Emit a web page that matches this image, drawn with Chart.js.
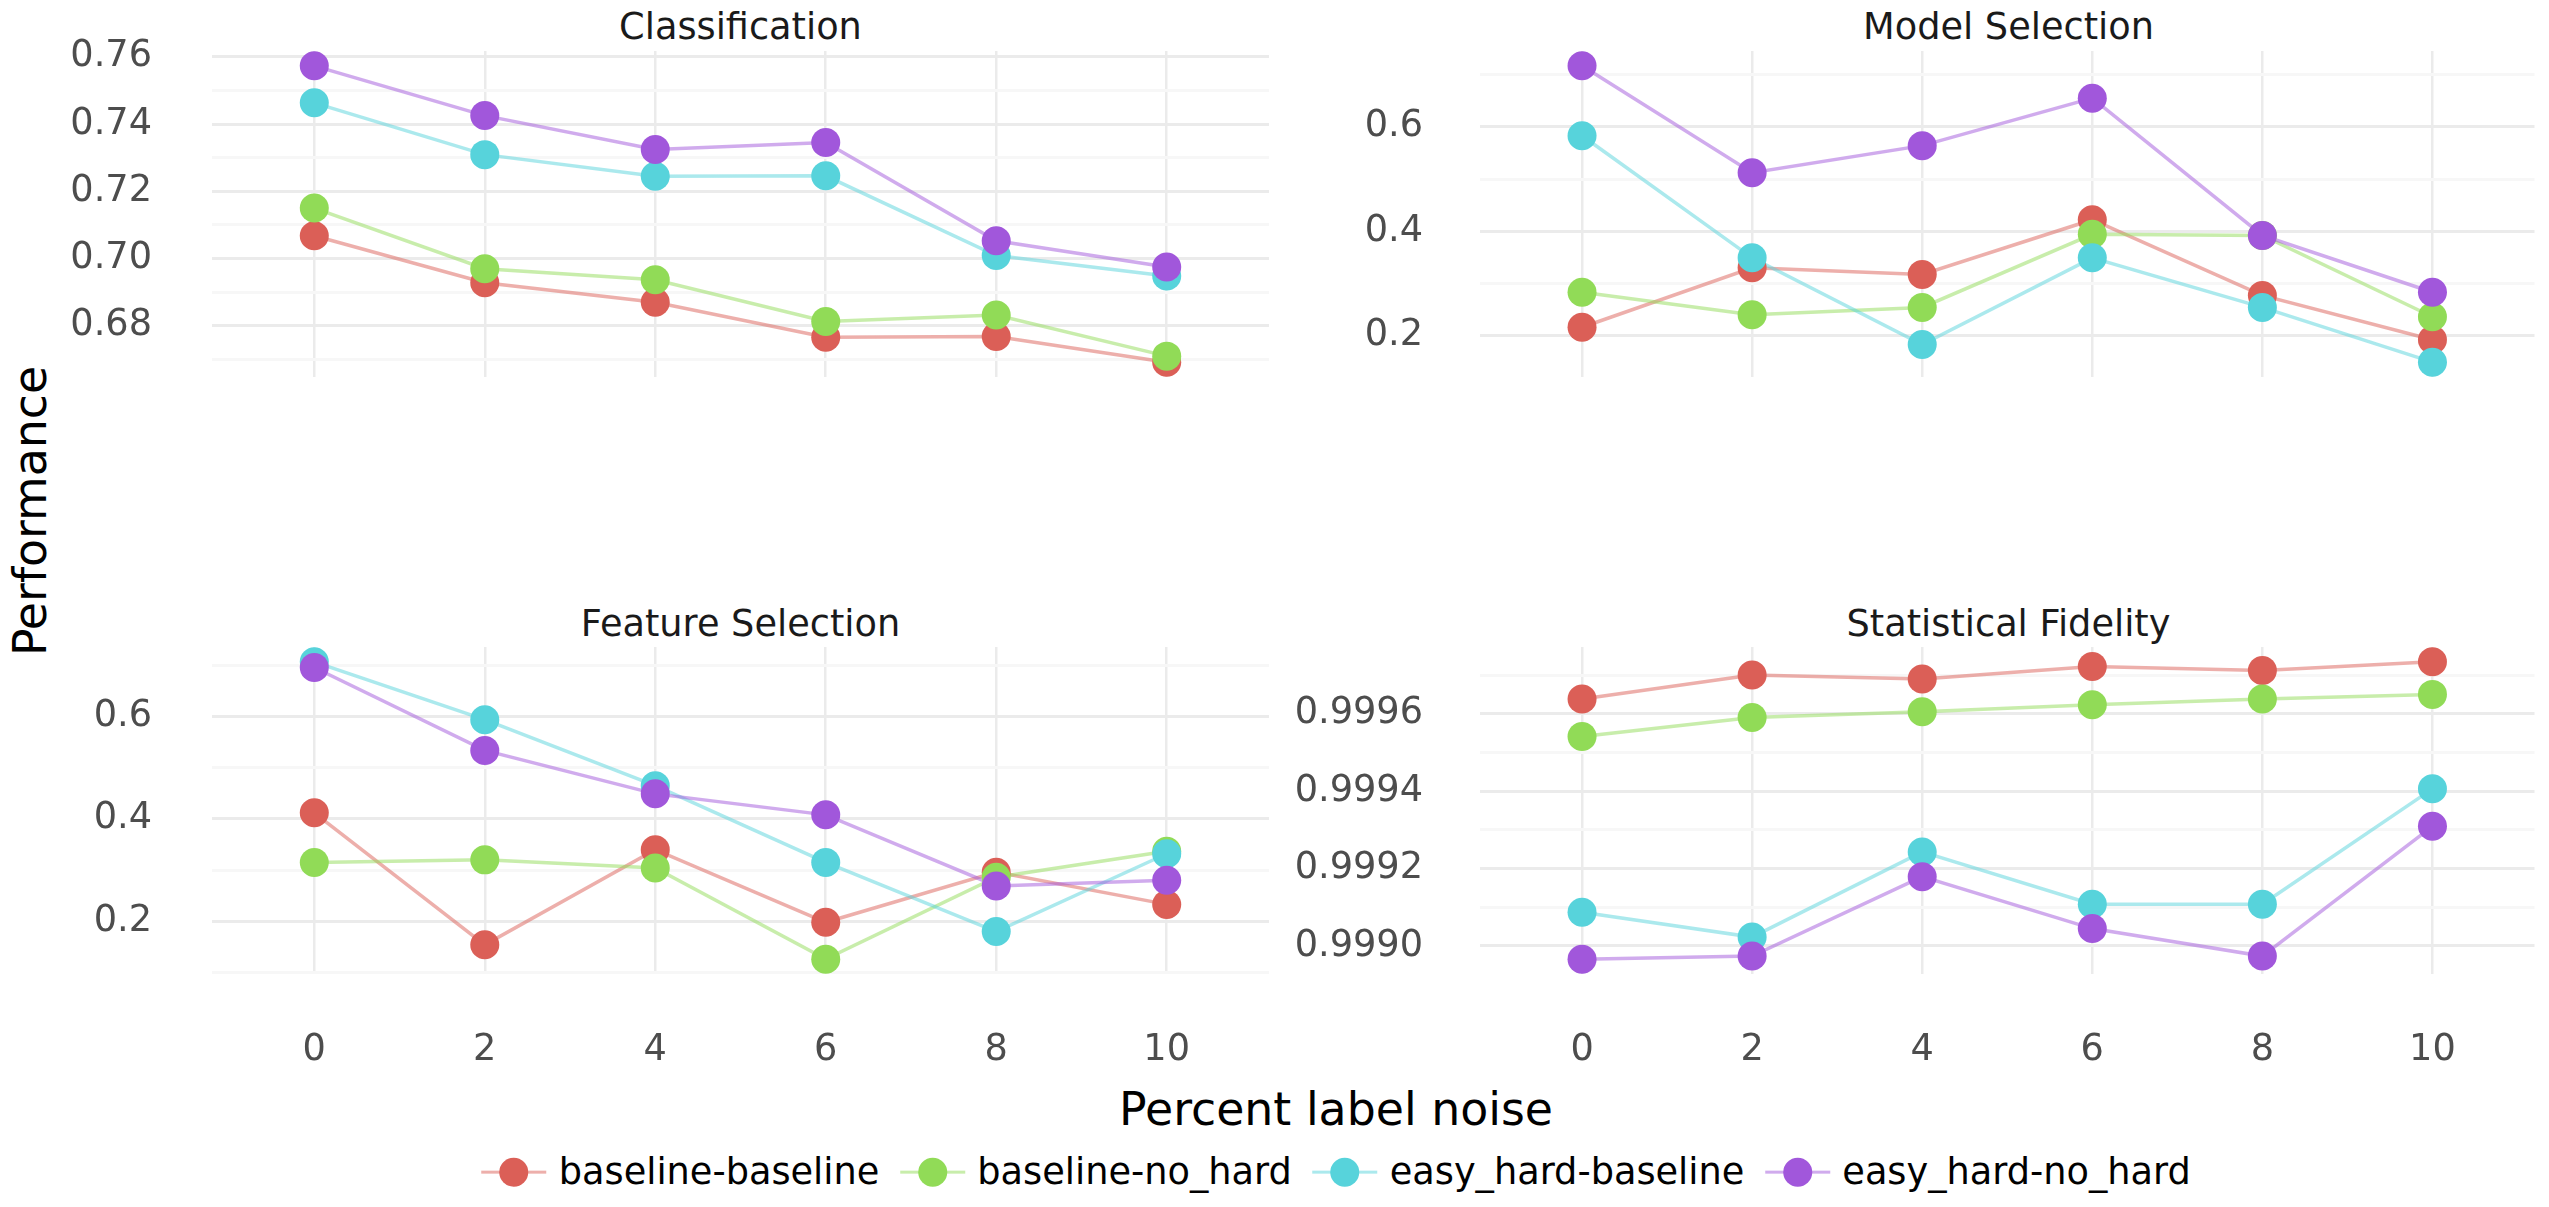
<!DOCTYPE html>
<html>
<head>
<meta charset="utf-8">
<script src="https://cdn.jsdelivr.net/npm/chart.js@4.4.1/dist/chart.umd.min.js"></script>
<style>
  body { margin: 0; width: 2549px; height: 1207px; background: #fff; position: relative; overflow: hidden;
         font-family: 'DejaVu Sans', sans-serif; }
  canvas { position: absolute; }
  .txt { position: absolute; transform: translate(-50%, -50%); white-space: nowrap; line-height: 1; }
  .strip { font-size: 36.7px; color: #1a1a1a; }
  .axtitle { font-size: 45.8px; color: #000; }
  #legend { display: flex; align-items: center; font-size: 36.7px; color: #000; }
  .key { position: relative; width: 65px; height: 30px; margin-right: 12.5px; }
  .key .ln { position: absolute; left: 0; right: 0; top: 13.25px; height: 3.5px; }
  .key .pt { position: absolute; left: 18px; top: 0.5px; width: 29px; height: 29px; border-radius: 50%; }
  .item { display: flex; align-items: center; margin-right: 20.5px; }
  .item:last-child { margin-right: 0; }
</style>
</head>
<body>
<div class="txt strip" style="left:740.5px;top:26.5px">Classification</div>
<div class="txt strip" style="left:2008.5px;top:26.5px">Model Selection</div>
<div class="txt strip" style="left:740.5px;top:623.5px">Feature Selection</div>
<div class="txt strip" style="left:2008.5px;top:623.5px">Statistical Fidelity</div>
<div class="txt axtitle" style="left:31px;top:511px;transform:translate(-50%,-50%) rotate(-90deg)">Performance</div>
<div class="txt axtitle" style="left:1336px;top:1110px">Percent label noise</div>
<div id="legend" class="txt" style="left:1336px;top:1172px"></div>
<script>
// x positions (percent label noise)
const noise = [0, 2, 4, 6, 8, 10];
const seriesNames = ["baseline-baseline", "baseline-no_hard", "easy_hard-baseline", "easy_hard-no_hard"];
const seriesColors = ["#DB5F57", "#91DB57", "#57D3DB", "#A157DB"];

// Classification
const clsBaseBase = [0.7068, 0.6928, 0.6870, 0.6766, 0.6768, 0.6692];
const clsBaseNoHard = [0.7150, 0.6970, 0.6937, 0.6813, 0.6832, 0.6710];
const clsEasyBase = [0.7463, 0.7309, 0.7245, 0.7246, 0.7009, 0.6948];
const clsEasyNoHard = [0.7573, 0.7425, 0.7324, 0.7345, 0.7053, 0.6975];
const clsTicks = ["0.68", "0.70", "0.72", "0.74", "0.76"];
const clsMinor = [0.67, 0.69, 0.71, 0.73, 0.75];

// Model Selection
const msBaseBase = [0.216, 0.330, 0.317, 0.422, 0.277, 0.192];
const msBaseNoHard = [0.283, 0.240, 0.254, 0.394, 0.392, 0.236];
const msEasyBase = [0.583, 0.349, 0.183, 0.349, 0.254, 0.149];
const msEasyNoHard = [0.717, 0.512, 0.564, 0.655, 0.392, 0.283];
const msTicks = ["0.2", "0.4", "0.6"];
const msMinor = [0.1, 0.3, 0.5, 0.7];

// Feature Selection
const fsBaseBase = [0.412, 0.154, 0.340, 0.198, 0.296, 0.233];
const fsBaseNoHard = [0.315, 0.320, 0.304, 0.126, 0.286, 0.337];
const fsEasyBase = [0.707, 0.594, 0.465, 0.315, 0.180, 0.332];
const fsEasyNoHard = [0.696, 0.534, 0.449, 0.408, 0.269, 0.280];
const fsTicks = ["0.2", "0.4", "0.6"];
const fsMinor = [0.1, 0.3, 0.5, 0.7];

// Statistical Fidelity
const sfBaseBase = [0.999638, 0.999700, 0.999690, 0.999722, 0.999712, 0.999734];
const sfBaseNoHard = [0.999541, 0.999590, 0.999605, 0.999623, 0.999638, 0.999650];
const sfEasyBase = [0.999087, 0.999023, 0.999243, 0.999108, 0.999108, 0.999406];
const sfEasyNoHard = [0.998966, 0.998974, 0.999179, 0.999045, 0.998974, 0.999309];
const sfTicks = ["0.9990", "0.9992", "0.9994", "0.9996"];
const sfMinor = [0.9991, 0.9993, 0.9995, 0.9997];

const FONT = { family: "DejaVu Sans", size: 36.7 };

function fade(hex) {
  const n = parseInt(hex.slice(1), 16);
  return `rgba(${n >> 16},${(n >> 8) & 255},${n & 255},0.5)`;
}

// ggplot-like 5% expansion of the data range
function expandRange(series) {
  const all = [].concat(...series);
  const lo = Math.min(...all), hi = Math.max(...all);
  const pad = (hi - lo) * 0.05;
  return [lo - pad, hi + pad];
}

function makePanel(p) {
  const cv = document.createElement("canvas");
  const left = p.plotLeft - p.axisW;
  const top = p.plotTop - 30;
  const right = p.plotRight + p.padRight;
  const xH = p.showX ? 116 : 0;
  const bottom = p.plotBottom + (p.showX ? xH : 30);
  cv.width = right - left;
  cv.height = bottom - top;
  cv.style.left = left + "px";
  cv.style.top = top + "px";
  document.body.appendChild(cv);

  const [yMin, yMax] = expandRange(p.series);
  const yTicks = p.ticks.map(t => ({ value: parseFloat(t), text: t, minor: false }))
    .concat(p.minor.map(v => ({ value: v, text: "", minor: true })))
    .filter(t => t.value > yMin && t.value < yMax)
    .sort((a, b) => a.value - b.value);

  const lineSets = p.series.map((vals, i) => ({
    data: vals.map((v, j) => ({ x: noise[j], y: v })),
    borderColor: fade(seriesColors[i]),
    borderWidth: 3.5,
    pointRadius: 0,
    tension: 0,
    clip: false
  }));
  const pointSets = p.series.map((vals, i) => ({
    data: vals.map((v, j) => ({ x: noise[j], y: v })),
    showLine: false,
    pointRadius: 14.5,
    pointBackgroundColor: seriesColors[i],
    pointBorderWidth: 0,
    clip: false
  }));
  // index 0 is painted last: points above lines, purple on top
  const datasets = pointSets.reverse().concat(lineSets.reverse());

  new Chart(cv, {
    type: "line",
    data: { datasets },
    options: {
      responsive: false,
      animation: false,
      devicePixelRatio: 1,
      layout: { padding: { top: 30, right: p.padRight, bottom: p.showX ? 0 : 30, left: 0 } },
      plugins: { legend: { display: false }, tooltip: { enabled: false } },
      scales: {
        x: {
          type: "linear",
          min: -1.2,
          max: 11.2,
          afterBuildTicks: s => { s.ticks = noise.map(v => ({ value: v })); },
          afterFit: s => { s.height = xH; },
          grid: { color: "#EBEBEB", lineWidth: 2.5, drawTicks: p.showX, tickLength: 51, tickColor: "rgba(0,0,0,0)" },
          border: { display: false },
          ticks: { display: p.showX, padding: 3, autoSkip: false, maxRotation: 0, color: "#4D4D4D", font: FONT,
                   callback: v => String(v) }
        },
        y: {
          type: "linear",
          min: yMin,
          max: yMax,
          afterBuildTicks: s => { s.ticks = yTicks.map(t => ({ value: t.value, minor: t.minor, text: t.text })); },
          afterFit: s => { s.width = p.axisW; },
          grid: {
            color: c => (c.tick && c.tick.minor ? "#F7F7F7" : "#EBEBEB"),
            lineWidth: 3,
            tickLength: p.tickLen,
            tickColor: "rgba(0,0,0,0)"
          },
          border: { display: false },
          ticks: { padding: 3, autoSkip: false, color: "#4D4D4D", font: FONT,
                   callback: (v, i, ts) => ts[i].text }
        }
      }
    }
  });
}

makePanel({ series: [clsBaseBase, clsBaseNoHard, clsEasyBase, clsEasyNoHard], ticks: clsTicks, minor: clsMinor,
            plotLeft: 212, plotRight: 1269, plotTop: 51, plotBottom: 377, axisW: 212, tickLen: 57, padRight: 20, showX: false });
makePanel({ series: [msBaseBase, msBaseNoHard, msEasyBase, msEasyNoHard], ticks: msTicks, minor: msMinor,
            plotLeft: 1480, plotRight: 2537, plotTop: 51, plotBottom: 377, axisW: 210, tickLen: 54, padRight: 12, showX: false });
makePanel({ series: [fsBaseBase, fsBaseNoHard, fsEasyBase, fsEasyNoHard], ticks: fsTicks, minor: fsMinor,
            plotLeft: 212, plotRight: 1269, plotTop: 647, plotBottom: 974, axisW: 212, tickLen: 57, padRight: 20, showX: true });
makePanel({ series: [sfBaseBase, sfBaseNoHard, sfEasyBase, sfEasyNoHard], ticks: sfTicks, minor: sfMinor,
            plotLeft: 1480, plotRight: 2537, plotTop: 647, plotBottom: 974, axisW: 210, tickLen: 54, padRight: 12, showX: true });

// shared legend
const legend = document.getElementById("legend");
seriesNames.forEach((name, i) => {
  const item = document.createElement("div");
  item.className = "item";
  item.innerHTML = `<div class="key"><div class="ln" style="background:${fade(seriesColors[i])}"></div>` +
    `<div class="pt" style="background:${seriesColors[i]}"></div></div><span>${name}</span>`;
  legend.appendChild(item);
});
</script>
</body>
</html>
